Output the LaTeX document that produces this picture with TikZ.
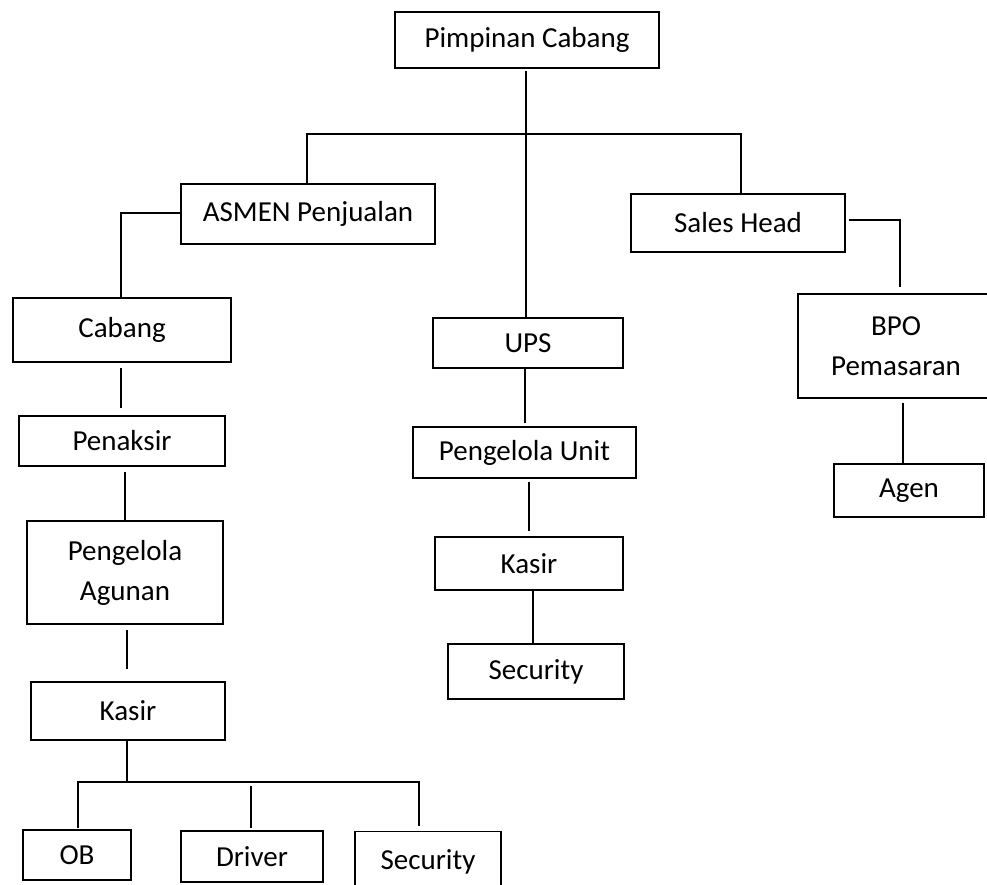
\documentclass[tikz,border=0pt]{standalone}
\usepackage{fontspec}
\setmainfont{Carlito}
\usetikzlibrary{calc}
\begin{document}
\begin{tikzpicture}[x=1pt,y=-1pt,
  box/.style={draw=black,line width=1.1pt,inner sep=0pt,align=center,
    font=\fontsize{29}{40}\selectfont},
  conn/.style={draw=black,line width=1.6pt}]
\useasboundingbox (0,0) rectangle (987,885);
\clip (0,0) rectangle (987,885);
\fill[white] (0,0) rectangle (987,885);
% nodes
\node[box,minimum width=264,minimum height=56] (pc) at (527,40) {Pimpinan Cabang};
\node[box,minimum width=254,minimum height=60] (asmen) at (308,214) {ASMEN Penjualan};
\node[box,minimum width=214,minimum height=58] (sales) at (738,223) {Sales Head};
\node[box,minimum width=196,minimum height=104] (bpo) at (896,346) {BPO\\Pemasaran};
\node[box,minimum width=150,minimum height=53] (agen) at (909,490.5) {Agen};
\node[box,minimum width=218,minimum height=64] (cabang) at (122,330) {Cabang};
\node[box,minimum width=206,minimum height=50] (penaksir) at (122,441) {Penaksir};
\node[box,minimum width=196,minimum height=103] (agunan) at (125,572.5) {Pengelola\\Agunan};
\node[box,minimum width=194,minimum height=58] (kasirL) at (128,711) {Kasir};
\node[box,minimum width=108,minimum height=50] (ob) at (77,855) {OB};
\node[box,minimum width=142,minimum height=51] (driver) at (252,856.5) {Driver};
\node[box,minimum width=146,minimum height=60,anchor=north] (secL) at (428,831) {\raisebox{4.5pt}{Security}};
\node[box,minimum width=190,minimum height=50] (ups) at (528,343) {UPS};
\node[box,minimum width=223,minimum height=51] (unit) at (524.5,452.5) {Pengelola Unit};
\node[box,minimum width=188,minimum height=53] (kasirU) at (529,563.5) {Kasir};
\node[box,minimum width=176,minimum height=55] (secU) at (536,671.5) {Security};
% junction coordinates
\coordinate (hl) at (307,134);
\coordinate (hr) at (741,134);
\coordinate (al) at (121,213);
\coordinate (sr) at (900,220);
\coordinate (bl) at (78,782);
\coordinate (br) at (419,782);
% top level
\draw[conn] ($(pc.south)+(-1,2)$) -- ($(ups.north -| pc.south)+(-1,0)$);
\draw[conn] (asmen.north -| hl) -- (hl) -- (hr) -- (hr |- sales.north);
% left branch
\draw[conn] (asmen.west |- al) -- (al) -- (al |- cabang.north);
\draw[conn] ($(cabang.south)+(-1,5)$) -- ($(penaksir.north)+(-1,-7)$);
\draw[conn] ($(agunan.north |- penaksir.south)+(0,5)$) -- (agunan.north);
\draw[conn] ($(kasirL.north |- agunan.south)+(-1,5)$) -- ($(kasirL.north)+(-1,-12)$);
\draw[conn] ($(kasirL.south)+(-1,0)$) -- ($(kasirL.south |- bl)+(-1,0)$);
\draw[conn] ($(bl |- ob.north)+(0,-1)$) -- (bl) -- (br) -- ($(br |- secL.north)+(0,-5)$);
\draw[conn] ($(driver.north)+(-1,-44)$) -- ($(driver.north)+(-1,-2)$);
% middle branch
\draw[conn] ($(ups.south -| pc.south)+(-2,0)$) -- ($(unit.north -| pc.south)+(-2,-3)$);
\draw[conn] ($(kasirU.north |- unit.south)+(0,3)$) -- ($(kasirU.north)+(0,-5)$);
\draw[conn] ($(kasirU.south)+(4,0)$) -- ($(secU.north)+(-3,0)$);
% right branch
\draw[conn] ($(sales.east |- sr)+(3,0)$) -- (sr) -- ($(sr |- bpo.north)+(0,-6)$);
\draw[conn] ($(bpo.south)+(7,4)$) -- ($(agen.north)+(-6,0)$);
\end{tikzpicture}
\end{document}
